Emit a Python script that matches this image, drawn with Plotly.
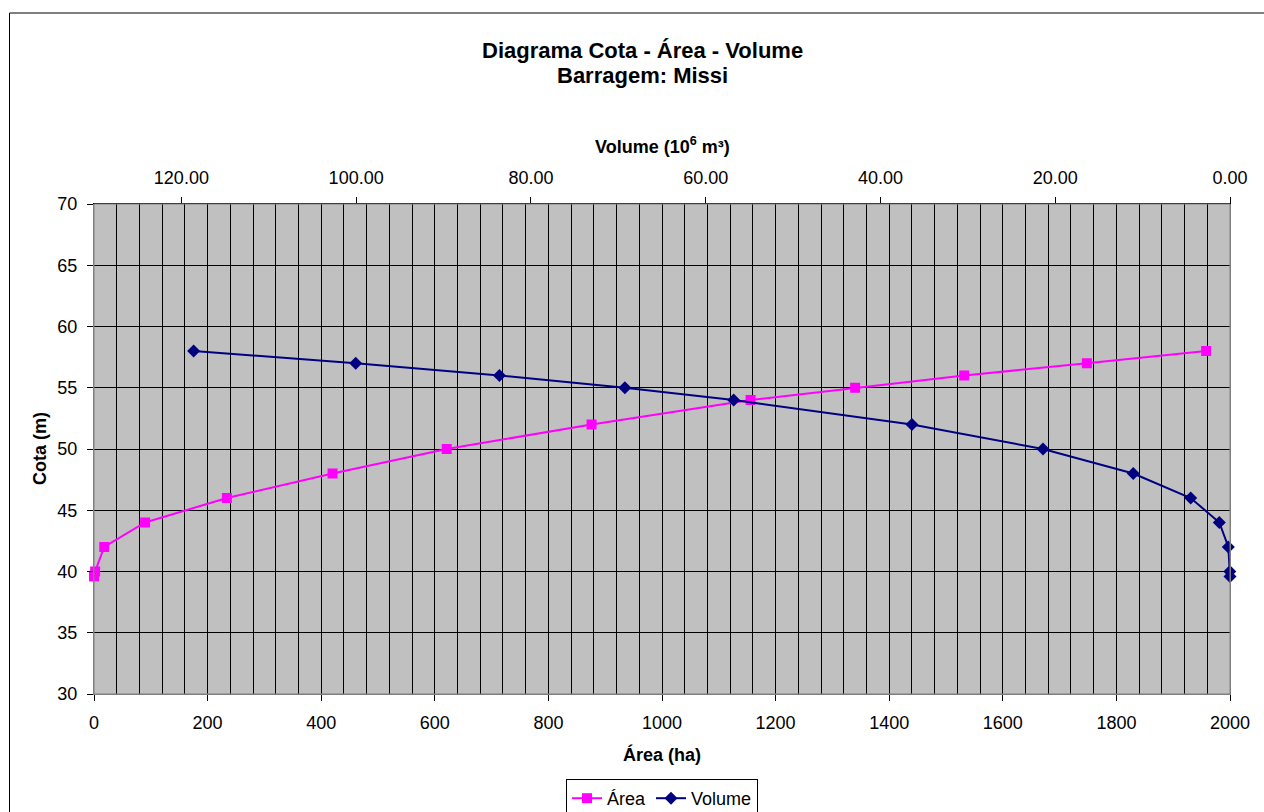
import plotly.graph_objects as go

# Data
cota = [39.6, 40, 42, 44, 46, 48, 50, 52, 54, 55, 56, 57, 58]
area_ha = [0, 2, 18, 90, 234, 420, 621, 876, 1156, 1340, 1532, 1748, 1958]
volume_hm3 = [0, 0.02, 0.19, 1.22, 4.5, 11.07, 21.4, 36.4, 56.8, 69.25, 83.6, 100.05, 118.6]

area_ticks = list(range(0, 2001, 200))
volume_ticks = [0, 20, 40, 60, 80, 100, 120]
cota_ticks = list(range(30, 71, 5))

FONT = "Liberation Sans, Arial, sans-serif"

fig = go.Figure()
fig.add_trace(go.Scatter(
    x=area_ha, y=cota, name="Área", mode="lines+markers",
    line=dict(color="#FF00FF", width=2),
    marker=dict(symbol="square", size=10, color="#FF00FF"),
    xaxis="x", yaxis="y", cliponaxis=False,
))
fig.add_trace(go.Scatter(
    x=volume_hm3, y=cota, name="Volume", mode="lines+markers",
    line=dict(color="#000080", width=2),
    marker=dict(symbol="diamond", size=10, color="#000080"),
    xaxis="x2", yaxis="y", cliponaxis=False,
))

L, R, T, B = 94, 34, 204, 118
W, H = 1264, 812
pw, ph = W - L - R, H - T - B

def px_x(px):
    return (px - L) / pw

def px_y(py):
    return (H - B - py) / ph

fig.update_layout(
    width=W, height=H,
    margin=dict(l=L, r=R, t=T, b=B, pad=0, autoexpand=False),
    paper_bgcolor="white",
    plot_bgcolor="#C0C0C0",
    font=dict(family=FONT, size=18, color="black"),
    showlegend=True,
    legend=dict(
        orientation="h", x=0.5, xanchor="center", y=px_y(779), yanchor="top",
        bordercolor="black", borderwidth=1, bgcolor="white",
        font=dict(size=18), itemwidth=30, tracegroupgap=0,
    ),
    xaxis=dict(
        range=[0, 2000], tickvals=area_ticks, ticks="outside", ticklen=6,
        tickcolor="black", showgrid=True, gridcolor="black", gridwidth=1,
        minor=dict(dtick=40, tick0=0, showgrid=True, gridcolor="black", gridwidth=1, ticks=""),
        showline=True, linecolor="#808080", linewidth=1, mirror=False,
        zeroline=False, tickfont=dict(size=18), ticklabelstandoff=6,
        automargin=False,
    ),
    xaxis2=dict(
        range=[130, 0], overlaying="x", side="top", anchor="y",
        tickvals=volume_ticks, tickformat=".2f", ticks="outside", ticklen=6,
        tickcolor="black", showgrid=False, zeroline=False,
        showline=True, linecolor="black", linewidth=1,
        tickfont=dict(size=18), ticklabelstandoff=6, automargin=False,
    ),
    yaxis=dict(
        range=[30, 70], tickvals=cota_ticks, ticks="outside", ticklen=6,
        tickcolor="black", showgrid=True, gridcolor="black", gridwidth=1,
        showline=True, linecolor="#808080", linewidth=1, mirror=True,
        zeroline=False, tickfont=dict(size=18), ticklabelstandoff=6,
        automargin=False,
    ),
    shapes=[
        dict(type="rect", xref="paper", yref="paper",
             x0=px_x(9.5), x1=px_x(1275), y0=px_y(820), y1=px_y(13),
             line=dict(color="black", width=1), fillcolor="rgba(0,0,0,0)", layer="below"),
        dict(type="rect", xref="paper", yref="paper", x0=0, x1=1, y0=0, y1=1,
             line=dict(color="#808080", width=1), fillcolor="rgba(0,0,0,0)"),
    ],
    annotations=[
        dict(text="<b>Diagrama Cota - Área - Volume</b>", xref="paper", yref="paper",
             x=px_x(642), y=px_y(50), xanchor="center", yanchor="middle",
             showarrow=False, font=dict(size=22)),
        dict(text="<b>Barragem: Missi</b>", xref="paper", yref="paper",
             x=px_x(642), y=px_y(75.5), xanchor="center", yanchor="middle",
             showarrow=False, font=dict(size=22)),
        dict(text="<b>Volume (10<sup>6</sup> m³)</b>", xref="paper", yref="paper",
             x=px_x(662), y=px_y(146), xanchor="center", yanchor="middle",
             showarrow=False, font=dict(size=18)),
        dict(text="<b>Área (ha)</b>", xref="paper", yref="paper",
             x=px_x(662), y=px_y(754), xanchor="center", yanchor="middle",
             showarrow=False, font=dict(size=18)),
        dict(text="<b>Cota (m)</b>", xref="paper", yref="paper",
             x=px_x(40), y=0.5, xanchor="center", yanchor="middle", textangle=-90,
             showarrow=False, font=dict(size=18)),
    ],
)

fig.write_html("out.html", config={"displayModeBar": False},
               post_script="document.body.style.margin='0';")
